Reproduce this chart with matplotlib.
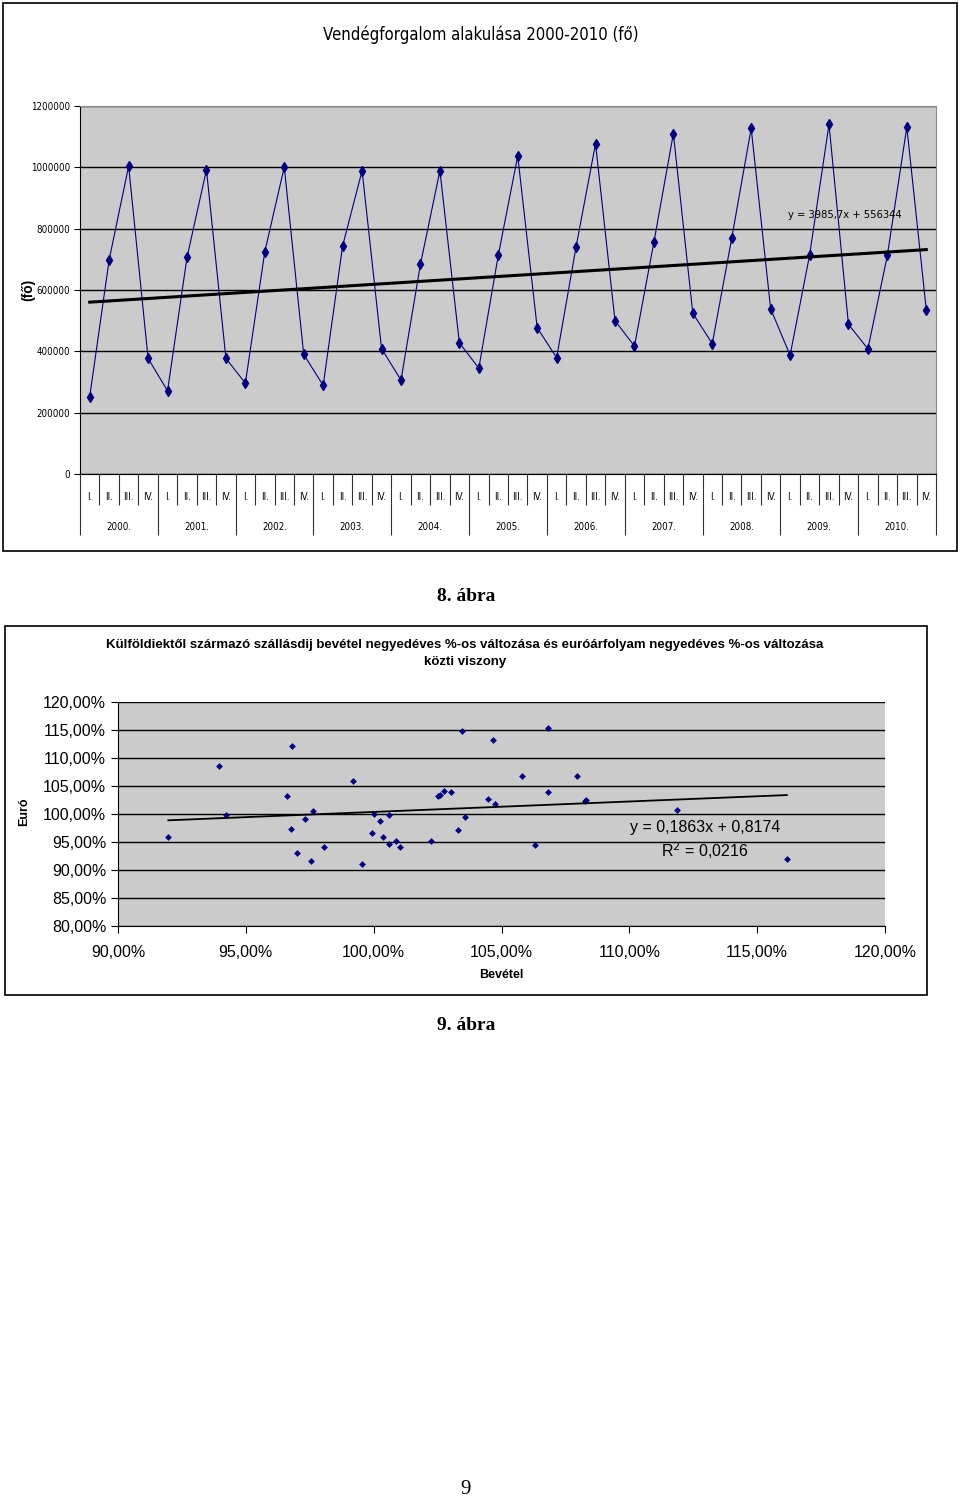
import numpy as np
import matplotlib
matplotlib.use('Agg')
import matplotlib.pyplot as plt
from matplotlib.patches import Rectangle
from matplotlib.ticker import FixedLocator, FuncFormatter
from matplotlib.transforms import blended_transform_factory

# -----------------------------
# Data
# -----------------------------
years = ['2000.', '2001.', '2002.', '2003.', '2004.', '2005.',
         '2006.', '2007.', '2008.', '2009.', '2010.']
quarters = ['I.', 'II.', 'III.', 'IV.']

# quarterly guest numbers (fő), 2000 I. .. 2010 IV.
visitors = [
    252000, 699000, 1004000, 377000,
    271000, 706000, 992000, 377000,
    296000, 725000, 1001000, 390000,
    289000, 744000, 989000, 409000,
    306000, 684000, 989000, 428000,
    345000, 713000, 1037000, 477000,
    379000, 741000, 1077000, 500000,
    417000, 756000, 1110000, 524000,
    425000, 769000, 1127000, 539000,
    387000, 713000, 1140000, 488000,
    408000, 713000, 1131000, 536000,
]
trend_slope = 3985.7
trend_intercept = 556344

# quarterly % change: revenue (x) vs euro rate (y)
revenue_pct = [91.97, 93.96, 94.24, 96.60, 96.80, 96.78, 96.99, 97.33, 97.64,
               97.56, 98.06, 99.20, 99.54, 99.93, 100.01, 100.23, 100.36,
               100.60, 100.60, 100.86, 101.02, 102.24, 102.50, 102.60, 102.76,
               103.04, 103.47, 103.31, 103.58, 104.67, 106.80, 105.79, 107.96,
               106.83, 104.48, 104.73, 108.26, 108.31, 111.88, 106.32, 116.16]
euro_pct = [95.84, 108.57, 99.80, 103.20, 112.10, 97.27, 93.10, 99.05, 100.48,
            91.55, 94.16, 105.95, 91.07, 96.55, 100.00, 98.70, 95.95,
            99.76, 94.64, 95.24, 94.16, 95.24, 103.20, 103.33, 104.16,
            103.93, 114.88, 97.14, 99.41, 113.20, 115.36, 106.79, 106.79,
            103.87, 102.74, 101.85, 102.30, 102.42, 100.70, 94.40, 91.90]
fit_slope = 0.1863
fit_intercept = 0.8174

# -----------------------------
# Figure setup
# -----------------------------
W, H = 960, 1501
fig = plt.figure(figsize=(W / 100, H / 100), dpi=100)
fig.patch.set_facecolor('white')

narrow = ['Liberation Sans Narrow', 'DejaVu Sans']
sans = ['Liberation Sans', 'DejaVu Sans']
serif = ['Liberation Serif', 'DejaVu Serif']


def box(l, t, r, b):
    return [l / W, 1 - b / H, (r - l) / W, (b - t) / H]


def ftext(x, y, s, **kw):
    fig.text(x / W, 1 - y / H, s, **kw)


# outer frames
fig.add_artist(Rectangle((3 / W, 1 - 551 / H), 954 / W, 548 / H,
                         transform=fig.transFigure, fill=False,
                         edgecolor='black', linewidth=1.2))
fig.add_artist(Rectangle((5 / W, 1 - 995 / H), 922 / W, 369 / H,
                         transform=fig.transFigure, fill=False,
                         edgecolor='black', linewidth=1.2))

# -----------------------------
# Chart 1: Vendégforgalom
# -----------------------------
ax1 = fig.add_axes(box(80, 106, 936, 474))
ax1.set_facecolor('#cbcbcb')
x = np.arange(1, len(visitors) + 1)
ax1.plot(x, visitors, color='#000080', linewidth=0.8, marker='d',
         markersize=5, markerfacecolor='#000080', markeredgecolor='#000080',
         zorder=3)
trend = trend_slope * x + trend_intercept
ax1.plot(x, trend, color='black', linewidth=2.2, zorder=4)

ax1.set_xlim(0.5, len(visitors) + 0.5)
ax1.set_ylim(0, 1200000)
ax1.set_yticks(np.arange(0, 1200001, 200000))
ax1.yaxis.set_major_formatter(FuncFormatter(lambda v, p: f'{v:.0f}'))
ax1.yaxis.grid(True, color='black', linewidth=1.0)
ax1.set_axisbelow(True)
for lab in ax1.get_yticklabels():
    lab.set_family(narrow)
    lab.set_stretch('condensed')
    lab.set_fontsize(7)
ax1.tick_params(axis='y', length=4, width=0.8, pad=3)

# category axis: year boundaries long, quarter boundaries short
ax1.xaxis.set_major_locator(FixedLocator(np.arange(0.5, len(visitors) + 1, 4)))
ax1.xaxis.set_minor_locator(FixedLocator(np.arange(0.5, len(visitors) + 1, 1)))
ax1.tick_params(axis='x', which='major', length=44, width=0.8,
                labelbottom=False, color='#333333')
ax1.tick_params(axis='x', which='minor', length=22, width=0.8,
                color='#333333')
ax1.spines['top'].set_color('#8a8a8a')
ax1.spines['right'].set_color('#8a8a8a')
ax1.spines['left'].set_color('black')
ax1.spines['bottom'].set_color('black')

tr = blended_transform_factory(ax1.transData, ax1.transAxes)
for i in range(len(visitors)):
    ax1.text(x[i], -0.0625, quarters[i % 4], transform=tr, ha='center',
             va='center', fontsize=7, family=narrow, stretch='condensed')
for k, yr in enumerate(years):
    ax1.text(4 * k + 2.5, -0.144, yr, transform=tr, ha='center',
             va='center', fontsize=7, family=narrow, stretch='condensed')

ax1.text(39.8, 846000, 'y = 3985,7x + 556344', ha='center',
         va='center', fontsize=8, family=narrow, stretch='condensed')

ftext(481, 35, 'Vendégforgalom alakulása 2000-2010 (fő)', ha='center',
      va='center', fontsize=12, family=narrow, stretch='condensed')
ftext(28, 290, '(fő)', ha='center', va='center', rotation=90,
      fontsize=10, fontweight='bold', family=sans)

ftext(466, 597, '8. ábra', ha='center', va='center', fontsize=14,
      fontweight='bold', family=serif)

# -----------------------------
# Chart 2: scatter
# -----------------------------
ax2 = fig.add_axes(box(118, 702, 885, 926))
ax2.set_facecolor('#cbcbcb')
ax2.scatter(revenue_pct, euro_pct, marker='D', s=12, color='#000080',
            zorder=3, linewidths=0)
fx = np.array([min(revenue_pct), max(revenue_pct)])
fy = (fit_slope * fx / 100 + fit_intercept) * 100
ax2.plot(fx, fy, color='black', linewidth=1.3, zorder=4)

ax2.set_xlim(90, 120)
ax2.set_ylim(80, 120)
ax2.set_xticks(np.arange(90, 121, 5))
ax2.set_yticks(np.arange(80, 121, 5))
pct = FuncFormatter(lambda v, p: f'{v:.2f}'.replace('.', ',') + '%')
ax2.xaxis.set_major_formatter(pct)
ax2.yaxis.set_major_formatter(pct)
ax2.yaxis.grid(True, color='black', linewidth=1.0)
ax2.set_axisbelow(True)
ax2.tick_params(axis='both', length=5, width=0.8, labelsize=11.5)
ax2.tick_params(axis='x', pad=9)
for lab in ax2.get_xticklabels() + ax2.get_yticklabels():
    lab.set_family(sans)
ax2.spines['top'].set_visible(False)
ax2.spines['right'].set_visible(False)

ax2.text(0.765, 0.439, 'y = 0,1863x + 0,8174', transform=ax2.transAxes,
         ha='center', va='center', fontsize=11.5, family=sans)
ax2.text(0.765, 0.336, 'R$^2$ = 0,0216', transform=ax2.transAxes,
         ha='center', va='center', fontsize=11.5, family=sans)

ftext(465, 645, 'Külföldiektől származó szállásdij bevétel negyedéves %-os '
      'változása és euróárfolyam negyedéves %-os változása', ha='center',
      va='center', fontsize=9.5, fontweight='bold', family=sans)
ftext(465, 662, 'közti viszony', ha='center', va='center', fontsize=9.5,
      fontweight='bold', family=sans)
ftext(501, 975, 'Bevétel', ha='center', va='center', fontsize=9,
      fontweight='bold', family=sans)
ftext(24, 812, 'Euró', ha='center', va='center', rotation=90, fontsize=9,
      fontweight='bold', family=sans)

ftext(466, 1025, '9. ábra', ha='center', va='center', fontsize=14,
      fontweight='bold', family=serif)
ftext(466, 1490, '9', ha='center', va='center', fontsize=15, family=serif)

fig.savefig('out.png', dpi=100)
